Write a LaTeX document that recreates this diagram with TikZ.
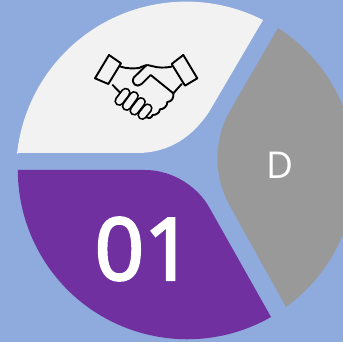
\documentclass[tikz,border=0pt]{standalone}
\usepackage{fontspec}
\setmainfont{Open Sans}
\newfontfamily\numfont[FakeBold=3]{Open Sans}
\definecolor{bgblue}{HTML}{8FAADC}
\definecolor{petalwhite}{HTML}{F2F2F2}
\definecolor{petalgray}{HTML}{999999}
\definecolor{petalpurple}{HTML}{7030A0}
\tikzset{
  iconline/.style={draw=black,line width=1.9pt,line join=round,line cap=round},
  fingerout/.style={draw=black,line width=10pt,line cap=round},
  fingerin/.style={draw=petalwhite,line width=6.4pt,line cap=round},
  label/.style={text=white,inner sep=0pt,anchor=center}
}
\begin{document}
\begin{tikzpicture}[x=1pt,y=1pt]
\useasboundingbox (0,0) rectangle (343,342);
\clip (0,0) rectangle (343,342);
\fill[bgblue] (0,0) rectangle (343,342);
\coordinate (c) at (187,172);
% white petal
\fill[petalwhite] (18,189) -- (137,189) .. controls (170,189) and (193,206) .. (209,230)
  -- (263,322) arc[start angle=63.1,end angle=174.3,radius=170] -- cycle;
% gray petal
\fill[petalgray] (278,314) -- (231,233) .. controls (213,203) and (213,165) .. (231,134)
  -- (286,35) arc[start angle=-54,end angle=57.4,radius=169] -- cycle;
% purple petal
\fill[petalpurple] (18,172) -- (145,172) .. controls (172,172) and (197,156) .. (209,135)
  -- (271,25) arc[start angle=-60.3,end angle=-180,radius=169.3] -- cycle;
\node[label,font=\fontsize{37}{37}\selectfont] (d) at (280,177) {D};
\node[label,font=\fontsize{86}{86}\numfont] (n) at (144,93) {01};
% handshake icon
\begin{scope}[shift={(80,302)},x=0.3333pt,y=-0.3333pt]
  \draw[iconline] (87,45) -- (123,70) -- (85,132) -- (45,115) -- cycle;
  \draw[iconline] (310,45) -- (275,72) -- (315,137) -- (352,115) -- cycle;
  \draw[iconline] (122,80) .. controls (140,86) and (160,86) .. (178,84)
    .. controls (190,78) and (200,72) .. (215,78) .. controls (235,84) and (255,84) .. (275,80);
  \draw[iconline] (200,75) -- (162,112) .. controls (150,130) and (172,145) .. (185,132)
    -- (212,105) -- (280,160) -- (305,132);
  \draw[iconline] (98,135) -- (127,165);
  \draw[iconline] (280,160) .. controls (282,175) and (275,185) .. (262,186)
    .. controls (262,200) and (250,208) .. (240,208) .. controls (238,220) and (228,225) .. (218,225)
    .. controls (215,235) and (205,238) .. (195,228);
  \foreach \a/\b/\p/\q in {118/183/137/158, 140/198/162/168, 163/212/183/186, 187/225/203/205}{
    \draw[fingerout] (\a,\b) -- (\p,\q);
  }
  \foreach \a/\b/\p/\q in {118/183/137/158, 140/198/162/168, 163/212/183/186, 187/225/203/205}{
    \draw[fingerin] (\a,\b) -- (\p,\q);
  }
\end{scope}
\end{tikzpicture}
\end{document}
